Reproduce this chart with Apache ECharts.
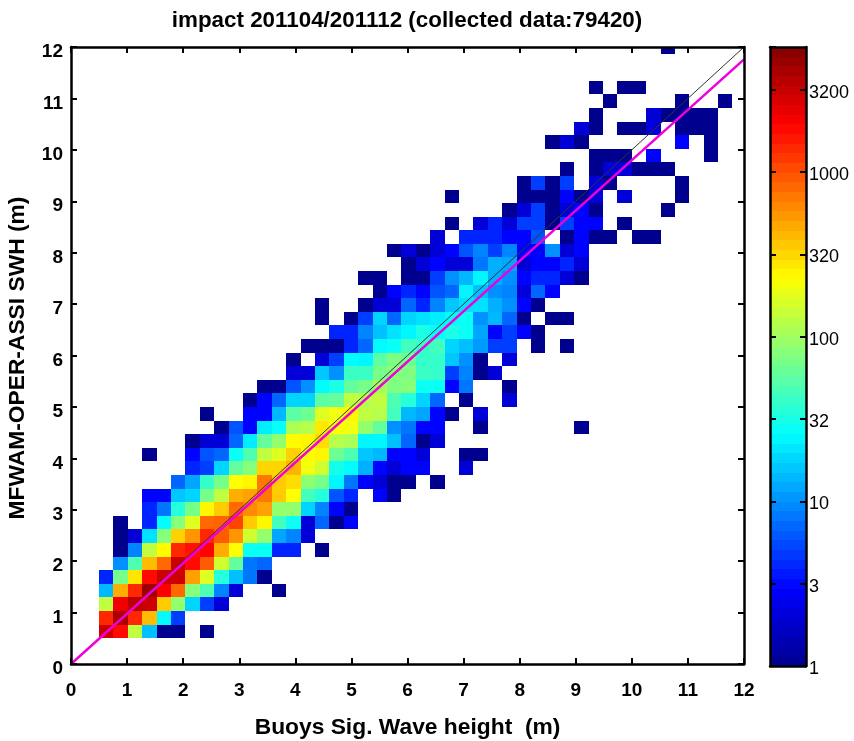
<!DOCTYPE html>
<html>
<head>
<meta charset="utf-8">
<title>impact 201104/201112</title>
<style>
  html, body { margin: 0; padding: 0; background: #fff; }
  #chart { width: 854px; height: 741px; }
</style>
<script src="https://cdn.jsdelivr.net/npm/echarts@6/dist/echarts.min.js"></script>
</head>
<body>
<div id="chart"></div>
<script>
// bin layout of the 2D histogram, in metres
const binStartX = 0.5;
const binStartY = 0.5;
const binWidth = 0.2567;
const binHeight = 0.2645;

// first occupied column of each row (row 0 is the lowest)
const rowStart = [0, 0, 0, 0, 0, 1, 1, 1, 1, 3, 3, 5, 6, 3, 6, 8, 7, 10, 11, 13, 13, 14, 16, 15, 15, 19, 18, 21, 20, 23, 24, 28, 24, 29, 32, 34, 31, 33, 34, 35, 34, 0, 0, 39];

const rowCounts = [
  [3000, 1800, 130, 15, 1, 1, 0, 1],
  [1400, 4000, 1400, 400, 25, 5],
  [130, 2200, 3500, 3000, 350, 90, 18, 5, 2],
  [14, 450, 1400, 4500, 2000, 800, 80, 50, 9, 2, 0, 0, 1],
  [4, 70, 280, 1800, 3000, 3000, 500, 170, 35, 15, 8, 1],
  [10, 50, 400, 800, 3000, 1800, 900, 150, 60, 8, 7],
  [1, 9, 130, 230, 1400, 1700, 1900, 450, 220, 28, 28, 4, 4, 0, 1],
  [1, 2, 20, 80, 330, 550, 1400, 900, 550, 150, 90, 12, 9, 2],
  [1, 0, 4, 26, 80, 170, 800, 850, 1100, 350, 240, 45, 28, 2, 7, 1, 3],
  [4, 8, 35, 70, 240, 350, 800, 600, 500, 90, 90, 18, 9, 3, 1],
  [3, 3, 16, 18, 70, 130, 450, 500, 700, 350, 220, 45, 35, 6, 4, 0, 3, 1],
  [7, 12, 40, 70, 220, 240, 700, 350, 300, 85, 70, 24, 8, 3, 2, 1, 1, 0, 1],
  [4, 5, 18, 60, 80, 320, 320, 420, 200, 150, 30, 25, 13, 3, 2, 3, 3, 0, 0, 2],
  [1, 0, 0, 3, 6, 7, 28, 50, 130, 170, 330, 230, 240, 65, 50, 16, 14, 3, 3, 2, 0, 0, 1, 1],
  [1, 2, 2, 7, 22, 60, 90, 230, 240, 300, 120, 110, 24, 24, 15, 7, 1, 2],
  [1, 6, 3, 22, 27, 110, 120, 270, 220, 200, 90, 60, 10, 8, 3, 3, 0, 0, 1, 0, 0, 0, 0, 0, 0, 1],
  [1, 0, 0, 3, 3, 14, 55, 65, 170, 200, 240, 130, 120, 45, 14, 12, 3, 1, 0, 2],
  [1, 3, 7, 18, 18, 55, 60, 130, 120, 130, 50, 35, 18, 7, 0, 1, 0, 0, 2],
  [1, 1, 6, 10, 25, 32, 60, 70, 100, 75, 80, 28, 28, 3, 8, 0, 0, 1],
  [2, 2, 16, 10, 42, 42, 70, 80, 75, 42, 40, 5, 9, 1, 2],
  [1, 0, 2, 5, 25, 24, 55, 75, 65, 40, 40, 16, 10, 1, 0, 2],
  [1, 1, 1, 4, 7, 25, 28, 45, 40, 45, 18, 15, 11, 5, 5, 0, 1, 0, 1],
  [4, 4, 9, 15, 20, 24, 32, 26, 32, 28, 12, 3, 5, 3, 1],
  [1, 0, 1, 5, 18, 7, 18, 20, 22, 25, 28, 10, 14, 7, 1, 0, 1, 1],
  [1, 0, 0, 1, 2, 2, 7, 4, 9, 16, 20, 20, 13, 10, 3, 1],
  [1, 3, 4, 3, 6, 7, 24, 15, 10, 9, 2, 7, 3],
  [1, 1, 0, 1, 1, 5, 10, 14, 24, 13, 10, 3, 4, 4, 2, 1],
  [1, 2, 3, 2, 2, 8, 13, 12, 2, 3, 3, 4, 2],
  [1, 2, 1, 2, 3, 6, 9, 5, 9, 3, 3, 10, 2, 3],
  [2, 0, 4, 4, 4, 3, 3, 6, 0, 1, 3, 1, 1, 0, 1, 1],
  [1, 0, 2, 4, 2, 5, 5, 1, 5, 3, 3, 0, 1],
  [1, 2, 5, 1, 2, 3, 1, 0, 0, 0, 0, 1],
  [1, 0, 0, 0, 0, 1, 1, 1, 3, 1, 2, 0, 2, 0, 0, 0, 1],
  [1, 5, 1, 5, 0, 2, 1, 0, 0, 0, 0, 1],
  [1, 0, 1, 2, 2, 1, 1, 1],
  [1, 1, 1, 0, 3, 0, 0, 0, 1],
  [1, 2, 1, 0, 0, 0, 0, 0, 0, 3, 0, 1],
  [2, 1, 0, 1, 1, 2, 0, 1, 1, 1],
  [1, 0, 0, 0, 2, 1, 1, 1, 1],
  [1, 0, 0, 0, 0, 1, 0, 0, 1],
  [1, 0, 1, 1],
  [],
  [],
  [1]
];

const oneToOneLine = [[0, 0], [12, 12]];
const fitLine = [[0, 0], [12, 11.76]];

// colour bar: log10(count) scale, labels sit every half decade
const logMax = 3.76;
const colorbarLabels = ['1', '3', '10', '32', '100', '320', '1000', '3200'];
const colorbarSteps = 64;
const jetColors = ['#00008f', '#0000ff', '#0080ff', '#00ffff', '#80ff80', '#ffff00', '#ff8000', '#ff0000', '#800000'];

const fontName = '"Liberation Sans", Arial, sans-serif';

// [x0, y0, x1, y1, log10(count)]
const cells = [];
rowCounts.forEach((counts, row) => {
  counts.forEach((count, k) => {
    if (!count) return;
    const col = rowStart[row] + k;
    const x0 = binStartX + col * binWidth;
    const y0 = binStartY + row * binHeight;
    cells.push([x0, y0, x0 + binWidth, y0 + binHeight, Math.log10(count)]);
  });
});

const colorbarCells = [];
for (let k = 0; k < colorbarSteps; k++) {
  const lo = logMax * k / colorbarSteps;
  const hi = logMax * (k + 1) / colorbarSteps;
  colorbarCells.push([0, lo, 1, hi, (lo + hi) / 2]);
}

function renderCell(params, api) {
  const p0 = api.coord([api.value(0), api.value(1)]);
  const p1 = api.coord([api.value(2), api.value(3)]);
  const x = Math.round(p0[0]);
  const y = Math.round(p1[1]);
  const rect = echarts.graphic.clipRectByRect(
    { x: x, y: y, width: Math.round(p1[0]) - x, height: Math.round(p0[1]) - y },
    params.coordSys
  );
  return rect && { type: 'rect', shape: rect, style: { fill: api.visual('color') } };
}

const frameLine = { show: true, onZero: false, lineStyle: { color: '#000', width: 2.5 } };
const innerTick = { show: true, inside: true, length: 6, lineStyle: { color: '#000', width: 2 } };
const tickFont = { fontFamily: fontName, fontWeight: 'bold', fontSize: 19, color: '#000' };
const nameFont = { fontFamily: fontName, fontWeight: 'bold', fontSize: 22.8, color: '#000' };

function mainAxis(position, extra) {
  return Object.assign({
    type: 'value', min: 0, max: 12, interval: 1, position: position, z: 5,
    gridIndex: 0, splitLine: { show: false }, axisLine: frameLine, axisTick: innerTick,
    axisLabel: { show: false }
  }, extra);
}

function barAxisY(position, extra) {
  return Object.assign({
    type: 'value', min: 0, max: logMax, interval: 0.5, position: position, z: 5,
    gridIndex: 1, splitLine: { show: false }, axisLine: frameLine, axisTick: innerTick,
    axisLabel: { show: false }
  }, extra);
}

function barAxisX(position) {
  return {
    type: 'value', min: 0, max: 1, position: position, z: 5, gridIndex: 1,
    splitLine: { show: false }, axisLine: frameLine, axisTick: { show: false }, axisLabel: { show: false }
  };
}

const chart = echarts.init(document.getElementById('chart'));

chart.setOption({
  backgroundColor: '#fff',
  animation: false,
  title: {
    text: 'impact 201104/201112 (collected data:79420)',
    left: 402, top: 5, textAlign: 'center',
    textStyle: { fontFamily: fontName, fontWeight: 'bold', fontSize: 22.4, color: '#000' }
  },
  grid: [
    { left: 71, right: 110, top: 47, bottom: 77, outerBoundsMode: 'none' },
    { left: 770, right: 48, top: 47, bottom: 75, outerBoundsMode: 'none' }
  ],
  xAxis: [
    mainAxis('bottom', {
      name: 'Buoys Sig. Wave height  (m)', nameLocation: 'middle', nameGap: 52, nameTextStyle: nameFont,
      axisLabel: Object.assign({ show: true, margin: 17 }, tickFont)
    }),
    mainAxis('top', {}),
    barAxisX('bottom'),
    barAxisX('top')
  ],
  yAxis: [
    mainAxis('left', {
      name: 'MFWAM-OPER-ASSI SWH (m)', nameLocation: 'middle', nameGap: 42,
      nameTextStyle: Object.assign({ padding: [0, 5, 0, 0] }, nameFont),
      axisLabel: Object.assign({ show: true, margin: 8, verticalAlign: 'top', lineHeight: 10 }, tickFont)
    }),
    mainAxis('right', {}),
    barAxisY('left', {}),
    barAxisY('right', {
      axisLabel: {
        show: true, margin: 3, showMaxLabel: false, fontFamily: fontName, fontSize: 18, color: '#000',
        verticalAlign: 'top', lineHeight: 6, formatter: (v, i) => colorbarLabels[i] || ''
      }
    })
  ],
  visualMap: {
    show: false, type: 'continuous', min: 0, max: logMax, dimension: 4,
    seriesIndex: [0, 3], inRange: { color: jetColors }
  },
  series: [
    {
      name: 'counts', type: 'custom', xAxisIndex: 0, yAxisIndex: 0, renderItem: renderCell,
      data: cells, encode: { x: [0, 2], y: [1, 3] }, z: 2
    },
    {
      name: '1:1', type: 'line', xAxisIndex: 0, yAxisIndex: 0, data: oneToOneLine, showSymbol: false,
      lineStyle: { color: '#333', width: 1 }, z: 3
    },
    {
      name: 'fit', type: 'line', xAxisIndex: 0, yAxisIndex: 0, data: fitLine, showSymbol: false,
      lineStyle: { color: '#f000d8', width: 2.5 }, z: 4
    },
    {
      name: 'colorbar', type: 'custom', xAxisIndex: 2, yAxisIndex: 2, renderItem: renderCell,
      data: colorbarCells, encode: { x: [0, 2], y: [1, 3] }, z: 2
    }
  ]
});
</script>
</body>
</html>
